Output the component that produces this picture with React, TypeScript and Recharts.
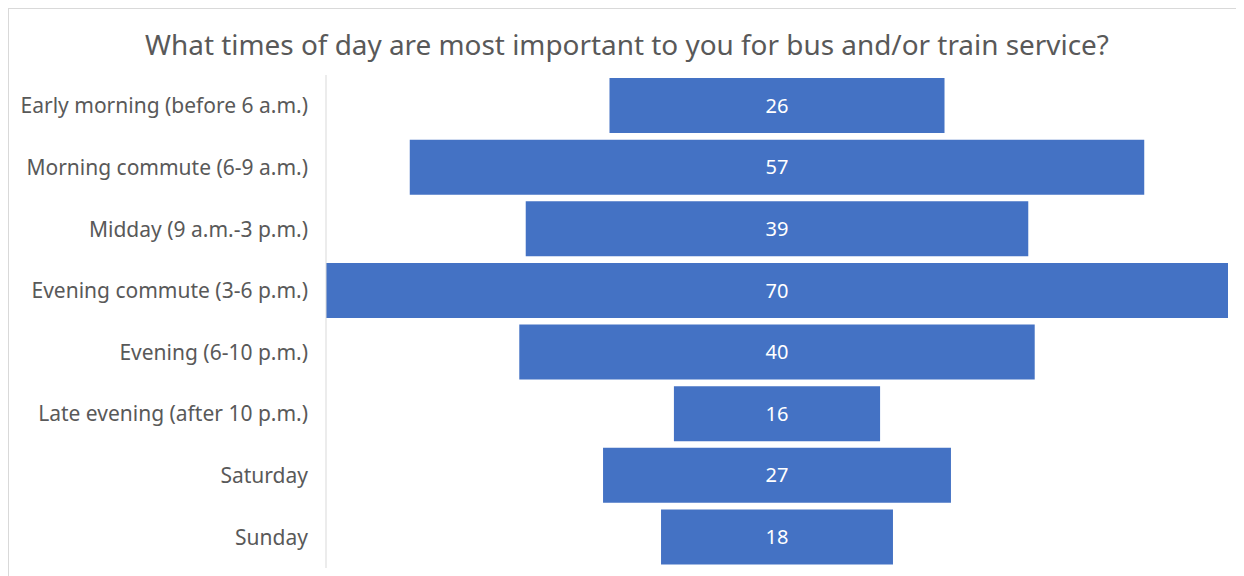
import React from 'react';
import { BarChart, Bar, XAxis, YAxis, LabelList } from 'recharts';

const categories = [
  'Early morning (before 6 a.m.)',
  'Morning commute (6-9 a.m.)',
  'Midday (9 a.m.-3 p.m.)',
  'Evening commute (3-6 p.m.)',
  'Evening (6-10 p.m.)',
  'Late evening (after 10 p.m.)',
  'Saturday',
  'Sunday',
];
const responses = [26, 57, 39, 70, 40, 16, 27, 18];
const maxValue = 70;

const data = categories.map((name, i) => ({
  name,
  spacer: (maxValue - responses[i]) / 2,
  value: responses[i],
}));

const font = '"Noto Sans", "Open Sans", sans-serif';

export default function App() {
  return (
    <div style={{ width: 1236, height: 568, overflow: 'hidden' }}>
      <div
        style={{
          position: 'relative',
          width: 1260,
          height: 567,
          borderTop: '1px solid #d9d9d9',
          borderLeft: '1px solid #d9d9d9',
          background: '#fff',
          fontFamily: font,
        }}
      >
        <div
          style={{
            position: 'absolute',
            top: 16,
            left: 0,
            width: 1236,
            textAlign: 'center',
            fontSize: 27.9,
            color: '#595959',
          }}
        >
          What times of day are most important to you for bus and/or train service?
        </div>
        <BarChart
          width={1235}
          height={567}
          data={data}
          layout="vertical"
          barCategoryGap="5%"
          margin={{ top: 66, right: 16, left: 0, bottom: 8 }}
        >
          <XAxis type="number" domain={[0, maxValue]} hide />
          <YAxis
            type="category"
            dataKey="name"
            width={317}
            tickLine={false}
            axisLine={{ stroke: '#d9d9d9' }}
            tickMargin={12}
            tick={{ fill: '#595959', fontSize: 21, fontFamily: font }}
          />
          <Bar dataKey="spacer" stackId="a" fill="transparent" isAnimationActive={false} />
          <Bar dataKey="value" stackId="a" fill="#4472C4" isAnimationActive={false}>
            <LabelList
              dataKey="value"
              position="center"
              fill="#ffffff"
              fontSize={20}
              fontFamily={font}
            />
          </Bar>
        </BarChart>
      </div>
    </div>
  );
}
